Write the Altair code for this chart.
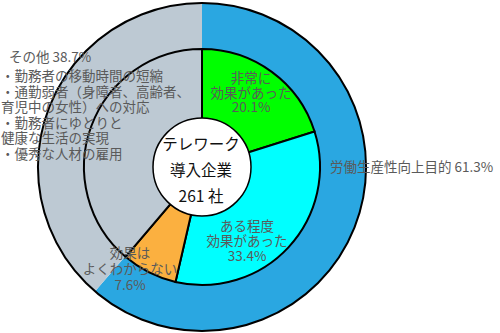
import altair as alt
import pandas as pd

# ---- data ----
outer_cats = ["労働生産性向上目的", "その他"]
outer_vals = [61.3, 38.7]

inner_cats = ["非常に効果があった", "ある程度効果があった", "効果はよくわからない", "その他"]
inner_vals = [20.1, 33.4, 7.6, 38.7]

other_items = [
    "・勤務者の移動時間の短縮",
    "・通勤弱者（身障者、高齢者、",
    "育児中の女性）への対応",
    "・勤務者にゆとりと",
    "健康な生活の実現",
    "・優秀な人材の雇用",
]
center_lines = ["テレワーク", "導入企業", "261 社"]

# ---- styles ----
FONT = "Noto Sans CJK JP"
TXT = "#5a5a5a"
CX, CY = 202, 167
color_scale = alt.Scale(
    domain=["労働生産性向上目的", "その他", "非常に効果があった", "ある程度効果があった", "効果はよくわからない"],
    range=["#2AA7E1", "#BDC9D3", "#00FF00", "#00FFFF", "#FBB040"],
)

outer_df = pd.DataFrame({"cat": outer_cats, "val": outer_vals, "idx": range(len(outer_cats))})
inner_df = pd.DataFrame({"cat": inner_cats, "val": inner_vals, "idx": range(len(inner_cats))})
one = pd.DataFrame({"v": [1]})

outer = alt.Chart(outer_df).mark_arc(innerRadius=118, outerRadius=164).encode(
    theta=alt.Theta("val:Q", stack=True),
    order=alt.Order("idx:Q"),
    color=alt.Color("cat:N", scale=color_scale, legend=None),
    x=alt.value(CX), y=alt.value(CY),
)

inner = alt.Chart(inner_df).mark_arc(innerRadius=0, outerRadius=118, stroke="black", strokeWidth=2).encode(
    theta=alt.Theta("val:Q", stack=True),
    order=alt.Order("idx:Q"),
    color=alt.Color("cat:N", scale=color_scale, legend=None),
    x=alt.value(CX), y=alt.value(CY),
)

outline = alt.Chart(one).mark_arc(outerRadius=164, innerRadius=0, fillOpacity=0, stroke="black", strokeWidth=2).encode(
    theta=alt.Theta("v:Q"), x=alt.value(CX), y=alt.value(CY),
)

hole = alt.Chart(one).mark_arc(outerRadius=49, innerRadius=0, fill="white", stroke="black", strokeWidth=1.5).encode(
    theta=alt.Theta("v:Q"), x=alt.value(CX), y=alt.value(CY),
)


def label(lines, x, y, size=13.5, color=TXT, align="center", lh=15):
    # y is the position of the first line
    return alt.Chart(one).mark_text(
        text=lines, font=FONT, fontSize=size, color=color, align=align,
        baseline="middle", lineHeight=lh,
    ).encode(x=alt.value(x), y=alt.value(y))


def pct(v):
    return f"{v}%"


labels = [
    label(["非常に", "効果があった", pct(inner_vals[0])], 251, 79, lh=14.5),
    label(["ある程度", "効果があった", pct(inner_vals[1])], 247, 227, lh=15),
    label(["効果は", "よくわからない", pct(inner_vals[2])], 130, 254, lh=16),
    label([f"{outer_cats[0]} {pct(outer_vals[0])}"], 330, 168, align="left"),
    label([f"その他 {pct(outer_vals[1])}"], 9, 58, align="left"),
    label(other_items, 1, 77, align="left", lh=15.6),
    label(center_lines, 201, 145, size=15.5, color="#111111", lh=26),
]

chart = alt.layer(outer, inner, outline, hole, *labels).resolve_scale(
    theta="independent"
).properties(
    width=500, height=333, padding=0, autosize=alt.AutoSizeParams(type="none")
).configure_view(stroke=None)

chart.save("out.html", embed_options={"renderer": "svg", "actions": False})
